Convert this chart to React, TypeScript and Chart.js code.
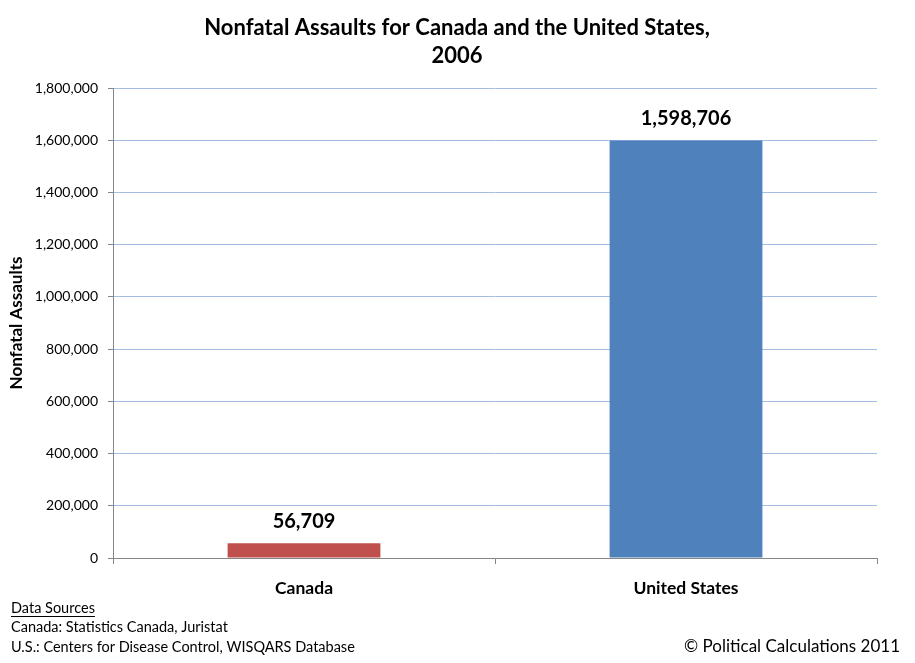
import React, { useEffect, useRef } from 'react';
import { Chart, registerables } from 'chart.js';

Chart.register(...registerables);

const categories = ['Canada', 'United States'];
const assaults = [56709, 1598706];
const barColors = ['#C0504D', '#4F81BD'];
const yMin = 0;
const yMax = 1800000;
const yStep = 200000;
const titleLines = ['Nonfatal Assaults for Canada and the United States,', '2006'];
const yAxisTitle = 'Nonfatal Assaults';
const sourceLines = [
  'Data Sources',
  'Canada: Statistics Canada, Juristat',
  'U.S.: Centers for Disease Control, WISQARS Database',
];
const copyright = '\u00A9 Political Calculations 2011';

const FONT = 'Lato, "Open Sans", "Liberation Sans", sans-serif';
const fmt = (v: number) => v.toLocaleString('en-US');

export default function App() {
  const ref = useRef<HTMLCanvasElement | null>(null);

  useEffect(() => {
    if (!ref.current) return;

    const overlay = {
      id: 'overlay',
      afterDatasetsDraw(chart: any) {
        const ctx = chart.ctx;
        const meta = chart.getDatasetMeta(0);
        ctx.save();
        ctx.fillStyle = '#000';
        ctx.font = `bold 20px ${FONT}`;
        ctx.textAlign = 'center';
        ctx.textBaseline = 'middle';
        meta.data.forEach((bar: any, i: number) => {
          ctx.fillText(fmt(assaults[i]), bar.x, bar.y - 22);
        });
        ctx.restore();
      },
      afterDraw(chart: any) {
        const ctx = chart.ctx;
        ctx.save();
        ctx.fillStyle = '#000';
        // title
        ctx.font = `bold 22px ${FONT}`;
        ctx.textAlign = 'center';
        ctx.textBaseline = 'middle';
        titleLines.forEach((t, i) => ctx.fillText(t, 457, 28 + i * 28));
        // sources
        ctx.font = `14.5px ${FONT}`;
        ctx.textAlign = 'left';
        sourceLines.forEach((t, i) => {
          const y = 608 + i * 19.5;
          ctx.fillText(t, 11, y);
          if (i === 0) {
            const w = ctx.measureText(t).width;
            ctx.fillRect(11, y + 8, w, 1);
          }
        });
        // copyright
        ctx.font = `17px ${FONT}`;
        ctx.textAlign = 'right';
        ctx.fillText(copyright, 900, 647);
        ctx.restore();
      },
    };

    const chart = new Chart(ref.current, {
      type: 'bar',
      data: {
        labels: categories,
        datasets: [
          {
            data: assaults,
            backgroundColor: barColors,
            borderWidth: 0,
            barPercentage: 0.4,
            categoryPercentage: 1.0,
          },
        ],
      },
      options: {
        responsive: false,
        animation: false,
        devicePixelRatio: 1,
        layout: { padding: { left: 0, right: 38, top: 88, bottom: 0 } },
        plugins: {
          legend: { display: false },
          title: { display: false },
          tooltip: { enabled: false },
        },
        scales: {
          x: {
            afterFit(scale: any) {
              scale.height = 105;
            },
            grid: {
              display: true,
              drawOnChartArea: false,
              drawTicks: true,
              tickLength: 6,
              color: '#868686',
              offset: true,
            },
            border: { display: true, color: '#868686', width: 1 },
            ticks: {
              padding: 14,
              color: '#000',
              font: { family: FONT, size: 17.5, weight: 'bold' },
            },
          },
          y: {
            min: yMin,
            max: yMax,
            afterFit(scale: any) {
              scale.width = 113;
            },
            grid: {
              color: '#A3BDE3',
              tickColor: '#868686',
              tickLength: 5,
            },
            border: { display: true, color: '#868686', width: 1 },
            ticks: {
              stepSize: yStep,
              padding: 10,
              color: '#000',
              font: { family: FONT, size: 14 },
              callback: (v: any) => fmt(Number(v)),
            },
            title: {
              display: true,
              text: yAxisTitle,
              color: '#000',
              font: { family: FONT, size: 17, weight: 'bold' },
              padding: { top: 6, bottom: 0 },
            },
          },
        },
      },
      plugins: [overlay],
    } as any);

    return () => chart.destroy();
  }, []);

  return (
    <div style={{ position: 'absolute', left: 0, top: 0, width: 915, height: 663, background: '#fff' }}>
      <canvas ref={ref} width={915} height={663} style={{ display: 'block' }} />
    </div>
  );
}
